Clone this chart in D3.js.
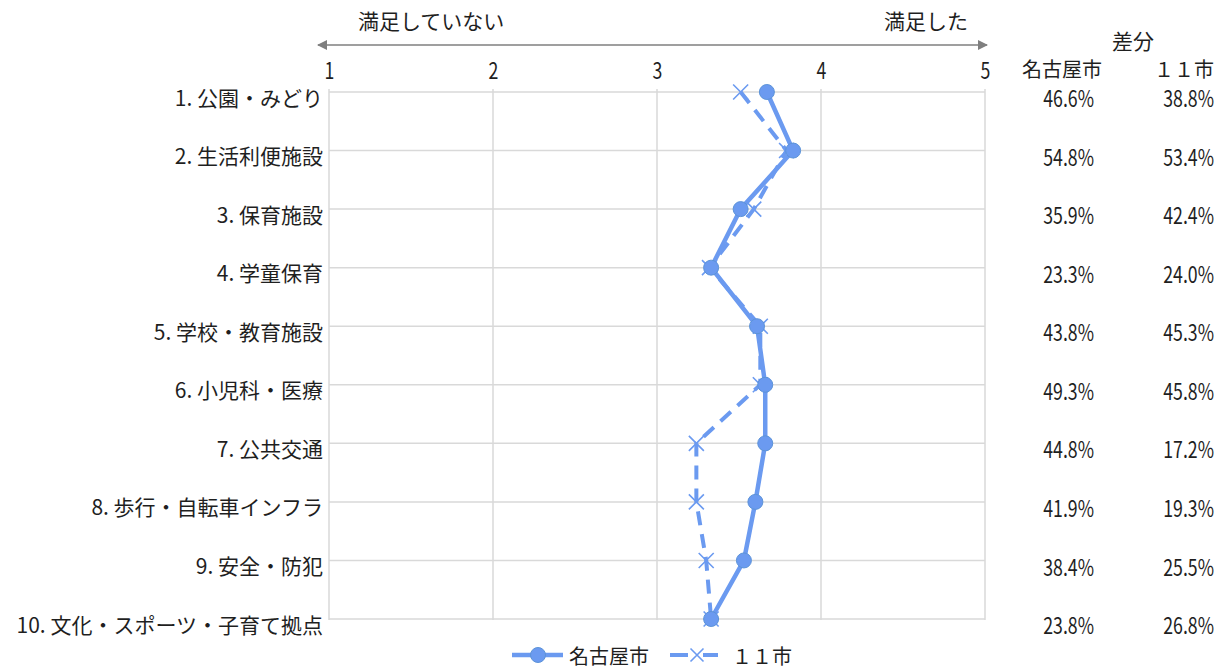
<!DOCTYPE html>
<html lang="ja">
<head>
<meta charset="utf-8">
<script src="https://cdn.jsdelivr.net/npm/d3@7"></script>
<style>
  html, body { margin: 0; padding: 0; background: #fff; }
  svg text { font-family: "Noto Sans CJK JP", sans-serif; fill: #1f1f1f; }
</style>
</head>
<body>
<svg id="chart" width="1225" height="668"></svg>
<script>
// 満足度（1〜5）の平均値と「差分」列
const categories = [
  "1. 公園・みどり", "2. 生活利便施設", "3. 保育施設", "4. 学童保育",
  "5. 学校・教育施設", "6. 小児科・医療", "7. 公共交通",
  "8. 歩行・自転車インフラ", "9. 安全・防犯", "10. 文化・スポーツ・子育て拠点"
];
const nagoya = [3.67, 3.83, 3.51, 3.33, 3.61, 3.66, 3.66, 3.60, 3.53, 3.33];
const cities11 = [3.51, 3.79, 3.59, 3.32, 3.63, 3.63, 3.24, 3.24, 3.30, 3.33];
const nagoyaDiff = [46.6, 54.8, 35.9, 23.3, 43.8, 49.3, 44.8, 41.9, 38.4, 23.8];
const cities11Diff = [38.8, 53.4, 42.4, 24.0, 45.3, 45.8, 17.2, 19.3, 25.5, 26.8];
const xTicks = [1, 2, 3, 4, 5];
const seriesNames = ["名古屋市", "１１市"];
const diffTitle = "差分";
const leftNote = "満足していない";
const rightNote = "満足した";

const svg = d3.select("#chart");
const blue = "#6b9af0";
const grid = "#d9d9d9";
const squeeze = 0.77; // narrow numeral style

const x = d3.scaleLinear().domain([1, 5]).range([329, 985]);
const y = d3.scalePoint().domain(categories).range([92, 619]).padding(0);

// grid
const g = svg.append("g");
g.selectAll("line.v").data(xTicks).join("line")
  .attr("x1", d => x(d)).attr("x2", d => x(d))
  .attr("y1", 89).attr("y2", 620)
  .attr("stroke", grid).attr("stroke-width", 1.5);
g.selectAll("line.h").data(categories).join("line")
  .attr("x1", x(1)).attr("x2", x(5))
  .attr("y1", d => y(d)).attr("y2", d => y(d))
  .attr("stroke", grid).attr("stroke-width", 1.5);

// top value axis
const axis = svg.append("g").attr("transform", "translate(0,79)")
  .call(d3.axisTop(x).tickValues(xTicks).tickFormat(d3.format("d")).tickSize(0).tickPadding(0));
axis.select(".domain").remove();
axis.selectAll("text").attr("font-size", 23).attr("fill", "#1f1f1f")
  .attr("transform", `scale(${squeeze},1)`);

// satisfaction direction arrow
const defs = svg.append("defs");
defs.append("marker").attr("id", "arr")
  .attr("viewBox", "0 0 10 10").attr("refX", 9).attr("refY", 5)
  .attr("markerWidth", 11).attr("markerHeight", 10).attr("markerUnits", "userSpaceOnUse")
  .attr("orient", "auto-start-reverse")
  .append("path").attr("d", "M0,0 L10,5 L0,10 z").attr("fill", "#7f7f7f");
svg.append("line").attr("x1", 318).attr("x2", 987).attr("y1", 45).attr("y2", 45)
  .attr("stroke", "#7f7f7f").attr("stroke-width", 1.5)
  .attr("marker-start", "url(#arr)").attr("marker-end", "url(#arr)");
svg.append("text").attr("x", 358).attr("y", 20).attr("dominant-baseline", "central")
  .attr("font-size", 21).text(leftNote);
svg.append("text").attr("x", 968).attr("y", 20).attr("text-anchor", "end").attr("dominant-baseline", "central")
  .attr("font-size", 21).text(rightNote);

// category labels
svg.append("g").selectAll("text").data(categories).join("text")
  .attr("x", 323).attr("y", d => y(d) + 4.5)
  .attr("text-anchor", "end").attr("dominant-baseline", "central")
  .attr("font-size", 21).text(d => d);

// series lines
const line = (vals) => d3.line().x((d, i) => x(vals[i])).y((d, i) => y(categories[i]))(categories);
svg.append("path").attr("d", line(cities11)).attr("fill", "none")
  .attr("stroke", blue).attr("stroke-width", 4).attr("stroke-dasharray", "14,9");
svg.append("path").attr("d", line(nagoya)).attr("fill", "none")
  .attr("stroke", blue).attr("stroke-width", 4.5).attr("stroke-linejoin", "round");

// markers
const crossPath = s => `M${-s},${-s}L${s},${s}M${-s},${s}L${s},${-s}`;
svg.append("g").selectAll("path").data(cities11).join("path")
  .attr("transform", (d, i) => `translate(${x(d)},${y(categories[i])})`)
  .attr("d", crossPath(7.5)).attr("stroke", blue).attr("stroke-width", 1.6).attr("fill", "none");
svg.append("g").selectAll("circle").data(nagoya).join("circle")
  .attr("cx", d => x(d)).attr("cy", (d, i) => y(categories[i])).attr("r", 7.5)
  .attr("fill", blue).attr("stroke", "#5c93d8").attr("stroke-width", 1);

// difference columns
const pct = d => d3.format(".1f")(d) + "%";
svg.append("text").attr("x", 1133).attr("y", 40).attr("text-anchor", "middle")
  .attr("dominant-baseline", "central").attr("font-size", 21).text(diffTitle);
svg.append("text").attr("x", 1062).attr("y", 68).attr("text-anchor", "middle")
  .attr("dominant-baseline", "central").attr("font-size", 20).text(seriesNames[0]);
svg.append("text").attr("x", 1214).attr("y", 68).attr("text-anchor", "end")
  .attr("dominant-baseline", "central").attr("font-size", 20).text(seriesNames[1]);
[[nagoyaDiff, 1094], [cities11Diff, 1214]].forEach(([vals, right]) => {
  svg.append("g").selectAll("text").data(vals).join("text")
    .attr("transform", (d, i) => `translate(${right},${y(categories[i]) + 5}) scale(${squeeze},1)`)
    .attr("text-anchor", "end").attr("dominant-baseline", "central")
    .attr("font-size", 23).text(pct);
});

// legend
const lg = svg.append("g").attr("transform", "translate(0,655)");
lg.append("line").attr("x1", 512).attr("x2", 563).attr("stroke", blue).attr("stroke-width", 4.5);
lg.append("circle").attr("cx", 538).attr("r", 7.5).attr("fill", blue).attr("stroke", "#5c93d8");
lg.append("text").attr("x", 569).attr("dominant-baseline", "central").attr("font-size", 20).text(seriesNames[0]);
lg.append("line").attr("x1", 670).attr("x2", 718).attr("stroke", blue).attr("stroke-width", 4)
  .attr("stroke-dasharray", "18,15,15");
lg.append("path").attr("transform", "translate(697,0)").attr("d", crossPath(6.5))
  .attr("stroke", blue).attr("stroke-width", 1.6);
lg.append("text").attr("x", 732).attr("dominant-baseline", "central").attr("font-size", 20).text(seriesNames[1]);
</script>
</body>
</html>
